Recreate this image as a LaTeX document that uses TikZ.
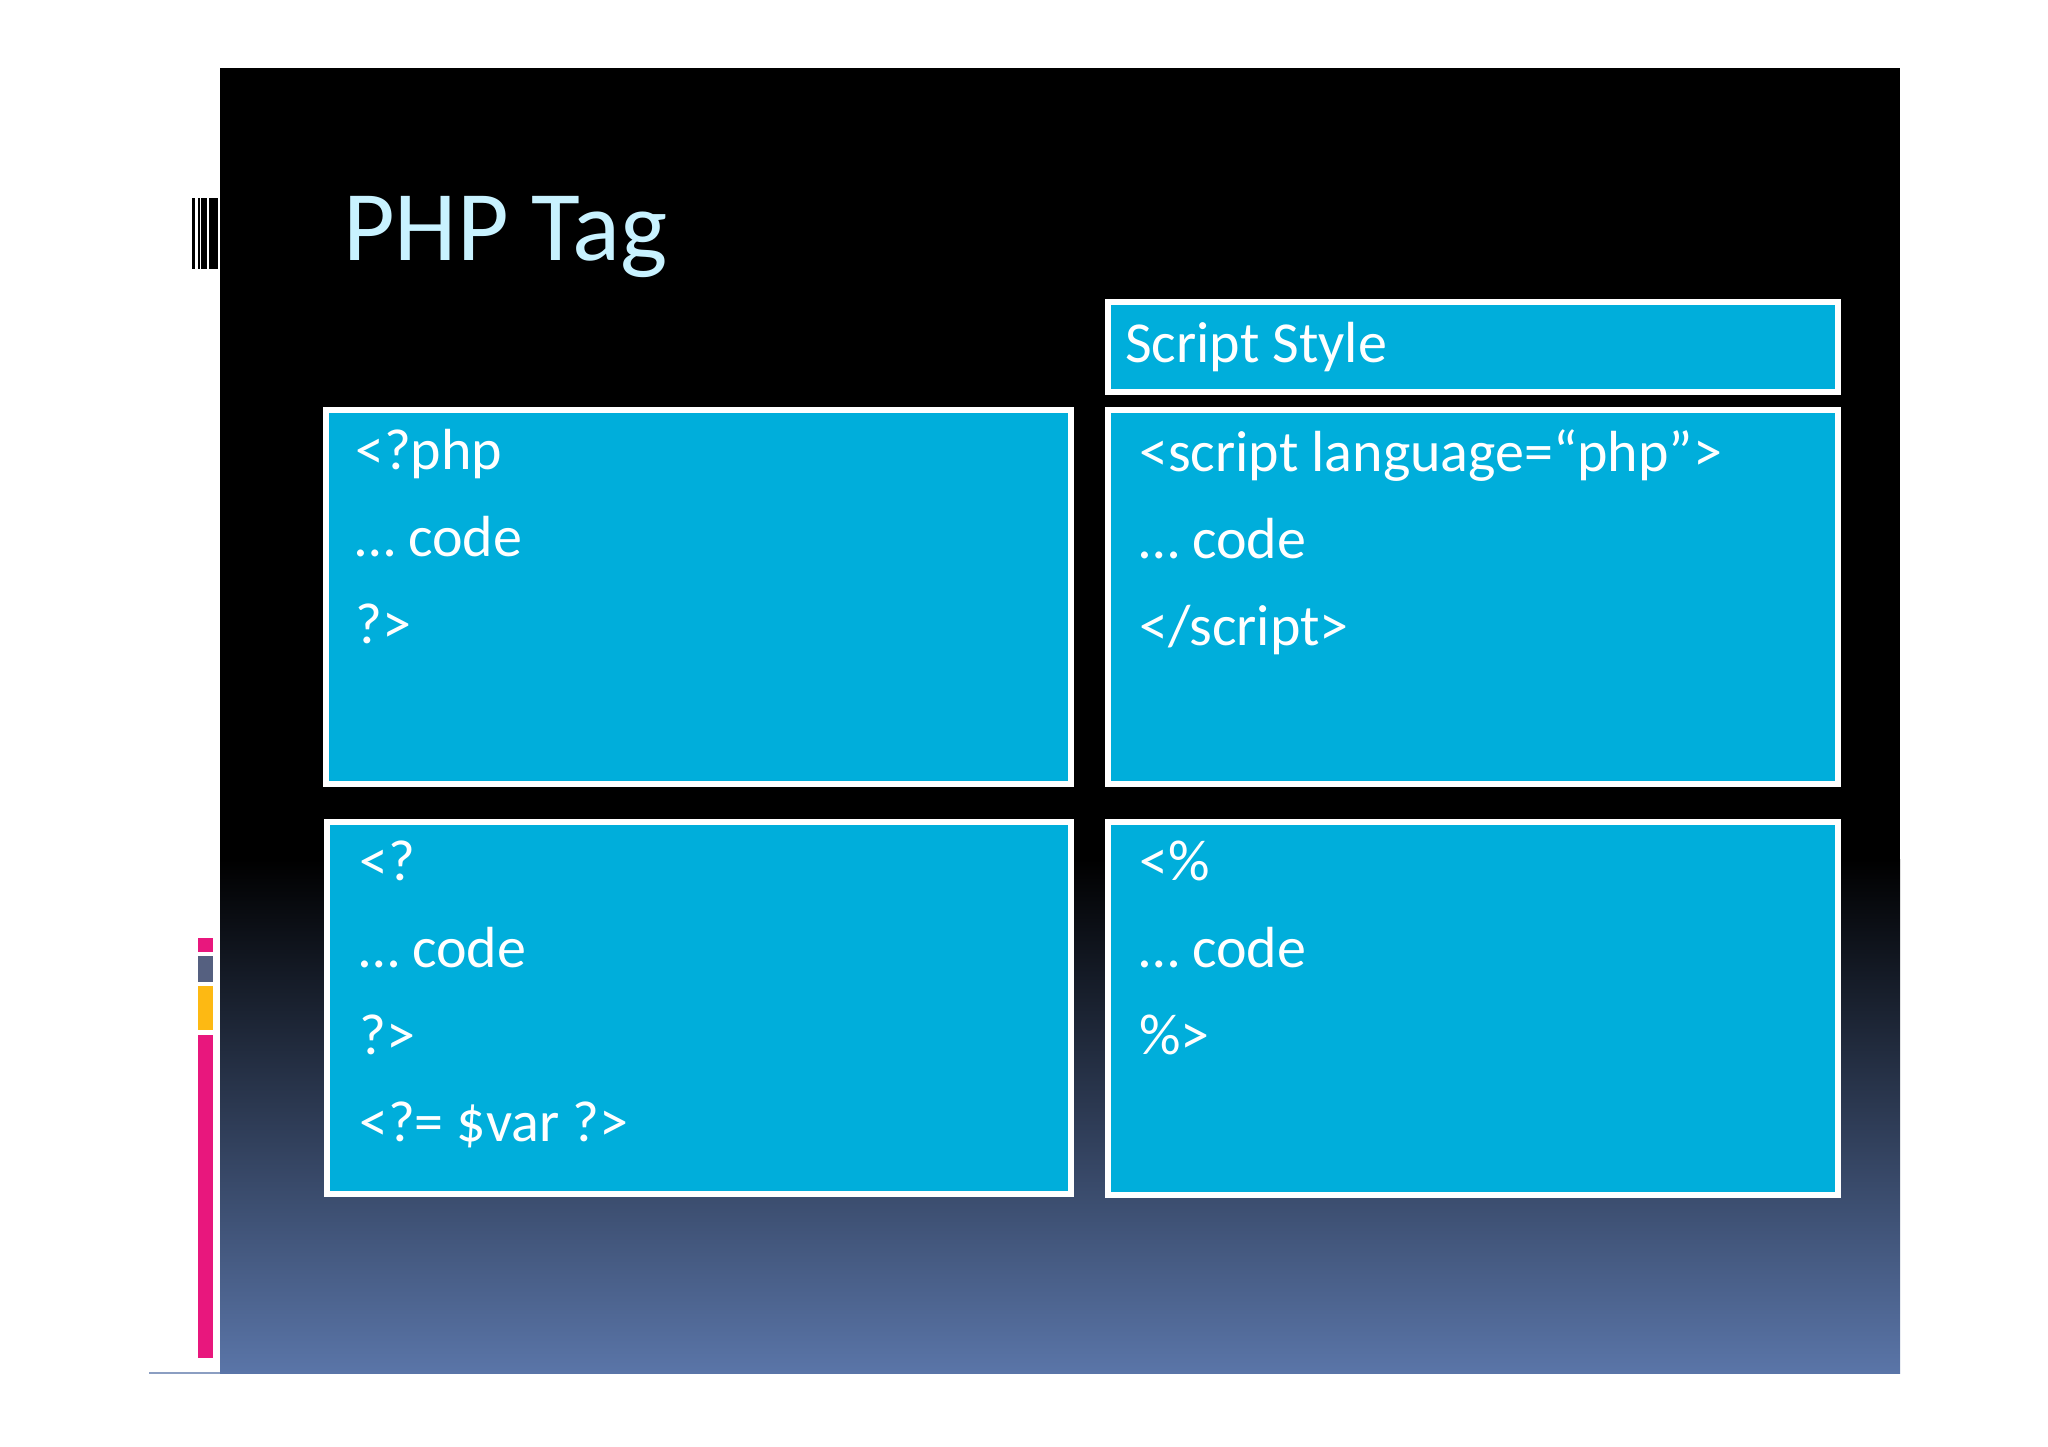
\documentclass[tikz,border=0pt]{standalone}
\usepackage{fontspec}
\setmainfont{Carlito}
\usetikzlibrary{positioning}
\definecolor{tagblue}{HTML}{00AEDB}
\definecolor{slateend}{HTML}{5A75A8}
\definecolor{titlecyan}{HTML}{C8F2FF}
\definecolor{barpink}{HTML}{E8177D}
\definecolor{bargray}{HTML}{556080}
\definecolor{baryellow}{HTML}{FDB913}
\begin{document}
\begin{tikzpicture}[
    x=1pt, y=-1pt,
    tagbox/.style={rectangle, draw=white, line width=6pt, fill=tagblue, anchor=north west, inner sep=0pt},
    tagtext/.style={anchor=north west, inner sep=0pt, align=left, text=white, font=\fontsize{58}{87}\selectfont},
    bar/.style={draw=none}
]
\useasboundingbox (0,0) rectangle (2048,1447);
\fill[white] (0,0) rectangle (2048,1447);

% --- Background panel ---
\fill[black] (220,68) rectangle (1900,860);
\shade[top color=black, bottom color=slateend] (220,859) rectangle (1900,1373);
\draw[slateend!70, line width=1.5pt] (149,1373) -- (220,1373);

% --- Side bars ---
\fill[black] (192,198) rectangle (194.5,269);
\fill[black] (197.5,198) rectangle (200,269);
\fill[black] (201,198) rectangle (206.5,269);
\fill[black] (209,198) rectangle (218,269);
\fill[barpink] (198,938) rectangle (213,952);
\fill[bargray] (198,956) rectangle (213,982);
\fill[baryellow] (198,986) rectangle (213,1030);
\fill[barpink] (198,1035) rectangle (213,1358);

% --- Title ---
\node (title) [anchor=base west, inner sep=0pt, text=titlecyan, font=\fontsize{100}{100}\selectfont] at (343,261) {PHP Tag};

% --- Boxes ---
\node (style) [tagbox, minimum width=730pt, minimum height=90pt] at (1105,299) {};
\node (phpbox) [tagbox, minimum width=745pt, minimum height=374pt] at (323,407) {};
\node (scriptbox) [tagbox, minimum width=730pt, minimum height=374pt] at (1105,407) {};
\node (shortbox) [tagbox, minimum width=744pt, minimum height=372pt] at (324,819) {};
\node (aspbox) [tagbox, minimum width=730pt, minimum height=373pt] at (1105,819) {};

% --- Texts ---
\node (styletext) [tagtext, anchor=west] at ([xshift=20pt]style.west) {Script Style};
\node (phptext) [tagtext] at ([xshift=32pt, yshift=-22pt]phpbox.north west) {<?php\\… code\\?>};
\node (scripttext) [tagtext] at ([xshift=34pt, yshift=-22pt]scriptbox.north west) {<script language=“php”>\\… code\\</script>};
\node (shorttext) [tagtext] at ([xshift=35pt, yshift=-22pt]shortbox.north west) {<?\\… code\\?>\\<?= \$var ?>};
\node (asptext) [tagtext] at ([xshift=34pt, yshift=-22pt]aspbox.north west) {<\%\\… code\\\%>};
\end{tikzpicture}
\end{document}
